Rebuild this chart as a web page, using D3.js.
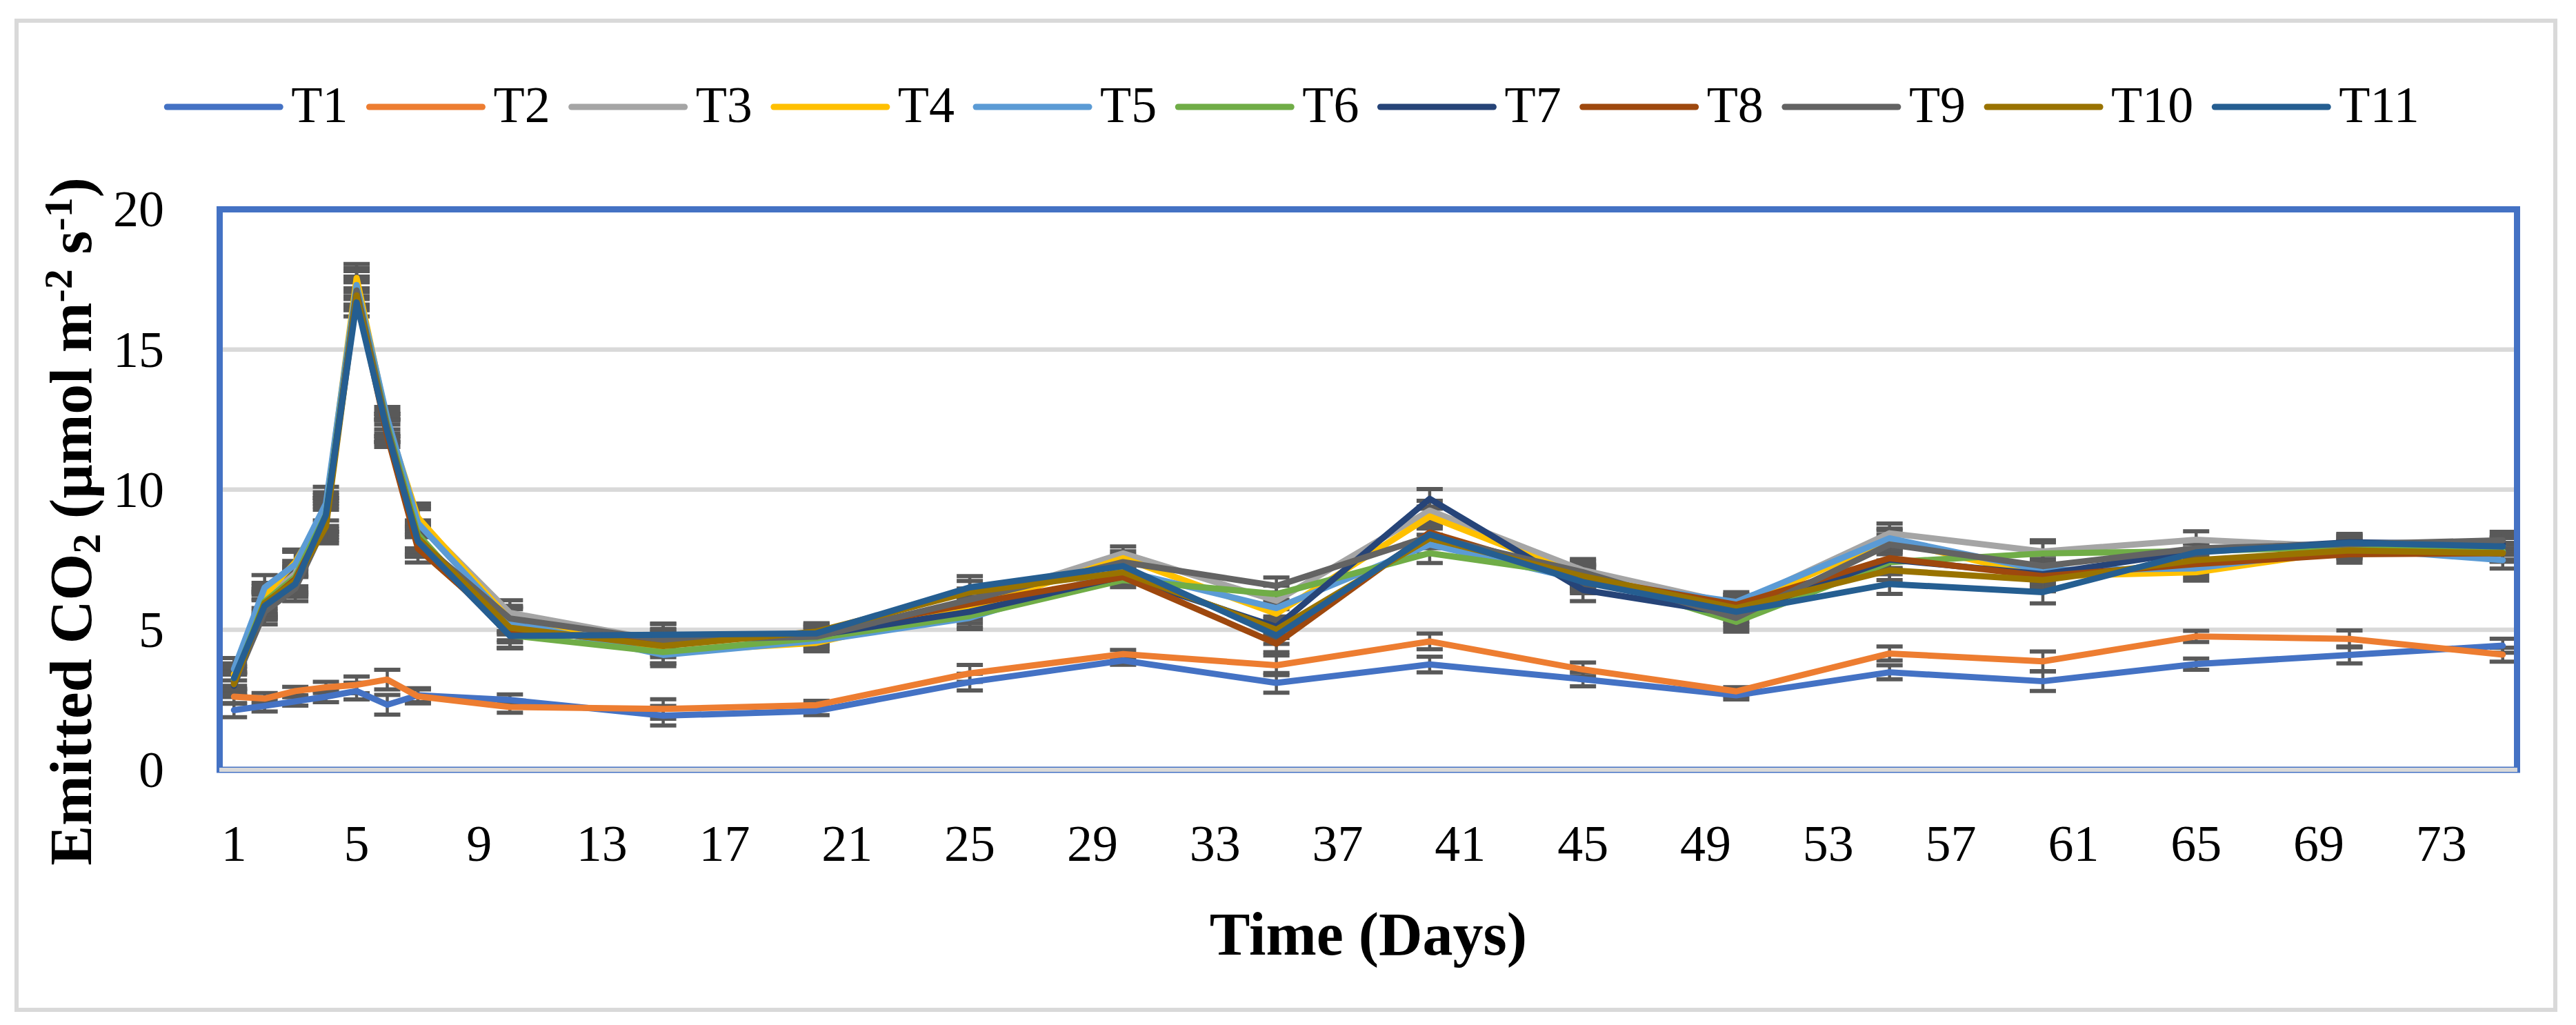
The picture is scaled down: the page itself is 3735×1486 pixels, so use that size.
<!DOCTYPE html>
<html>
<head>
<meta charset="utf-8">
<script src="https://cdn.jsdelivr.net/npm/d3@7"></script>
<style>
  body { margin: 0; background: #fff; }
  text { font-family: "Liberation Serif", "Times New Roman", serif; fill: #000; }
</style>
</head>
<body>
<div id="chart"></div>
<script>
// Emitted CO2 over 75 days, treatments T1..T11

const days = [1, 2, 3, 4, 5, 6, 7, 10, 15, 20, 25, 30, 35, 40, 45, 50, 55, 60, 65, 70, 75];
const tickDays = [1, 5, 9, 13, 17, 21, 25, 29, 33, 37, 41, 45, 49, 53, 57, 61, 65, 69, 73];
const yTicks = [0, 5, 10, 15, 20];

const names = ['T1', 'T2', 'T3', 'T4', 'T5', 'T6', 'T7', 'T8', 'T9', 'T10', 'T11'];
const colors = ['#4472C4', '#ED7D31', '#A5A5A5', '#FFC000', '#5B9BD5', '#70AD47',
                '#264478', '#9E480E', '#636363', '#997300', '#255E91'];

const T1  = [2.13, 2.28, 2.44, 2.61, 2.81, 2.32, 2.66, 2.49, 1.93, 2.10, 3.13, 3.90, 3.10, 3.76, 3.23, 2.66, 3.48, 3.16, 3.77, 4.10, 4.43];
const T2  = [2.61, 2.54, 2.81, 2.94, 3.03, 3.22, 2.62, 2.24, 2.17, 2.31, 3.44, 4.13, 3.73, 4.58, 3.58, 2.80, 4.15, 3.87, 4.76, 4.67, 4.11];
const T3  = [3.30, 6.10, 7.00, 9.20, 17.40, 12.30, 8.90, 5.60, 4.60, 4.80, 6.00, 7.72, 6.03, 9.25, 7.12, 5.90, 8.44, 7.79, 8.21, 7.95, 8.00];
const T4  = [3.40, 6.22, 7.41, 9.30, 17.55, 12.40, 9.00, 5.35, 4.20, 4.53, 5.77, 7.55, 5.57, 9.04, 6.90, 5.80, 8.20, 6.90, 7.05, 7.85, 7.75];
const T5  = [3.59, 6.50, 7.33, 9.50, 17.30, 12.55, 8.80, 5.28, 4.10, 4.60, 5.42, 7.10, 5.77, 8.04, 6.77, 5.99, 8.26, 7.12, 7.19, 7.90, 7.48];
const T6  = [3.20, 6.00, 6.88, 9.10, 17.10, 12.30, 8.40, 4.80, 4.20, 4.70, 5.49, 6.77, 6.27, 7.73, 6.95, 5.28, 7.41, 7.72, 7.80, 7.97, 7.80];
const T7  = [3.00, 5.80, 6.70, 9.00, 17.00, 12.10, 8.10, 4.80, 4.80, 4.80, 5.64, 6.90, 5.10, 9.67, 6.42, 5.55, 7.50, 6.98, 7.80, 8.12, 8.05];
const T8  = [3.10, 5.90, 6.80, 8.90, 16.90, 11.92, 7.90, 5.00, 4.50, 4.90, 5.92, 6.88, 4.50, 8.47, 6.85, 5.89, 7.55, 6.91, 7.34, 7.69, 7.73];
const T9  = [3.05, 5.64, 6.47, 8.80, 17.10, 12.20, 8.20, 5.40, 4.63, 4.75, 6.07, 7.41, 6.56, 8.33, 7.05, 5.42, 8.04, 7.27, 7.90, 8.05, 8.19];
const T10 = [3.06, 5.95, 6.75, 8.68, 16.93, 12.10, 8.27, 5.07, 4.42, 4.93, 6.34, 7.05, 5.00, 8.26, 6.91, 5.77, 7.12, 6.77, 7.48, 7.83, 7.73];
const T11 = [3.27, 5.85, 6.63, 9.09, 16.68, 12.06, 8.15, 4.78, 4.82, 4.87, 6.51, 7.27, 4.79, 8.40, 6.70, 5.64, 6.63, 6.34, 7.76, 8.10, 7.97];

// error bar half-widths per day: low group (T1, T2) and high group (T3..T11)
const errLow  = [0.25, 0.20, 0.15, 0.20, 0.30, 0.35, 0.25, 0.20, 0.35, 0.15, 0.30, 0.15, 0.35, 0.28, 0.25, 0.15, 0.25, 0.35, 0.20, 0.30, 0.25];
const errHigh = [0.40, 0.45, 0.45, 0.60, 0.50, 0.40, 0.50, 0.45, 0.40, 0.30, 0.40, 0.25, 0.30, 0.35, 0.40, 0.35, 0.35, 0.40, 0.30, 0.30, 0.30];

const seriesValues = [T1, T2, T3, T4, T5, T6, T7, T8, T9, T10, T11];

const W = 3735, H = 1486;
const svg = d3.select('#chart').append('svg').attr('width', W).attr('height', H);

// outer chart frame
svg.append('rect')
  .attr('x', 24).attr('y', 30).attr('width', 3681).attr('height', 1434)
  .attr('fill', '#fff').attr('stroke', '#D9D9D9').attr('stroke-width', 6);

const plot = { left: 317, right: 3651, top: 303.5, bottom: 1116 };

const x = d3.scaleBand().domain(d3.range(1, 76)).range([plot.left, plot.right]);
const cx = d => x(d) + x.bandwidth() / 2;
const y = d3.scaleLinear().domain([0, 20]).range([plot.bottom, plot.top]);

// gridlines
svg.append('g').selectAll('line')
  .data(yTicks.filter(v => v > 0 && v < 20))
  .enter().append('line')
  .attr('x1', plot.left + 5).attr('x2', plot.right - 5)
  .attr('y1', d => y(d)).attr('y2', d => y(d))
  .attr('stroke', '#D9D9D9').attr('stroke-width', 6.5);

const series = names.map((n, i) => ({
  name: n,
  color: colors[i],
  points: days.map((d, j) => ({ day: d, v: seriesValues[i][j], e: (i < 2 ? errLow : errHigh)[j] }))
}));

// error bars (behind the lines)
const eb = svg.append('g').attr('stroke', '#595959');
series.forEach(s => {
  const g = eb.append('g');
  g.selectAll('.stem').data(s.points).enter().append('line')
    .attr('x1', d => cx(d.day)).attr('x2', d => cx(d.day))
    .attr('y1', d => y(d.v - d.e)).attr('y2', d => y(d.v + d.e))
    .attr('stroke-width', 4.5);
  g.selectAll('.capT').data(s.points).enter().append('line')
    .attr('x1', d => cx(d.day) - 19).attr('x2', d => cx(d.day) + 19)
    .attr('y1', d => y(d.v + d.e)).attr('y2', d => y(d.v + d.e))
    .attr('stroke-width', 6);
  g.selectAll('.capB').data(s.points).enter().append('line')
    .attr('x1', d => cx(d.day) - 19).attr('x2', d => cx(d.day) + 19)
    .attr('y1', d => y(d.v - d.e)).attr('y2', d => y(d.v - d.e))
    .attr('stroke-width', 6);
});

// lines
const line = d3.line().x(d => cx(d.day)).y(d => y(d.v));
svg.append('g').selectAll('path')
  .data(series)
  .enter().append('path')
  .attr('d', d => line(d.points))
  .attr('fill', 'none')
  .attr('stroke', d => d.color)
  .attr('stroke-width', 9)
  .attr('stroke-linejoin', 'round')
  .attr('stroke-linecap', 'round');

// plot area border
svg.append('rect')
  .attr('x', plot.left + 1.5).attr('y', plot.top)
  .attr('width', plot.right - plot.left - 3).attr('height', plot.bottom - plot.top)
  .attr('fill', 'none').attr('stroke', '#4472C4').attr('stroke-width', 9);

// x axis line (light gray over the blue border)
svg.append('line')
  .attr('x1', plot.left + 1).attr('x2', plot.right - 1)
  .attr('y1', plot.bottom).attr('y2', plot.bottom)
  .attr('stroke', '#D9D9D9').attr('stroke-width', 6);

// x axis labels
const xAxis = svg.append('g')
  .attr('transform', `translate(0,${plot.bottom})`)
  .call(d3.axisBottom(x).tickValues(tickDays).tickSize(0));
xAxis.select('.domain').remove();
xAxis.selectAll('text')
  .attr('y', 132).attr('dy', null)
  .style('font-family', '"Liberation Serif", serif')
  .style('font-size', '74px').attr('fill', '#000');

// y axis labels
const yAxis = svg.append('g')
  .attr('transform', `translate(${plot.left},0)`)
  .call(d3.axisLeft(y).tickValues(yTicks).tickSize(0));
yAxis.select('.domain').remove();
yAxis.selectAll('text')
  .attr('x', -79).attr('dy', '0.33em')
  .style('font-family', '"Liberation Serif", serif')
  .style('font-size', '74px').attr('fill', '#000');

// axis titles
svg.append('text')
  .attr('x', (plot.left + plot.right) / 2).attr('y', 1384)
  .attr('text-anchor', 'middle')
  .style('font-size', '88px').style('font-weight', 'bold')
  .text('Time (Days)');

const yTitle = svg.append('text')
  .attr('transform', 'translate(132,756) rotate(-90)')
  .attr('text-anchor', 'middle')
  .style('font-size', '87px').style('font-weight', 'bold');
yTitle.append('tspan').text('Emitted CO');
yTitle.append('tspan').attr('baseline-shift', '-22%').style('font-size', '58px').text('2');
yTitle.append('tspan').text(' (µmol m');
yTitle.append('tspan').attr('baseline-shift', '48%').style('font-size', '58px').text('-2');
yTitle.append('tspan').text(' s');
yTitle.append('tspan').attr('baseline-shift', '48%').style('font-size', '58px').text('-1');
yTitle.append('tspan').text(')');

// legend
const legend = svg.append('g');
const items = legend.selectAll('g').data(series).enter().append('g');
items.append('line')
  .attr('x1', 4).attr('x2', 168).attr('y1', 155).attr('y2', 155)
  .attr('stroke', d => d.color).attr('stroke-width', 9).attr('stroke-linecap', 'round');
items.append('text')
  .attr('x', 184).attr('y', 177)
  .style('font-size', '74px')
  .text(d => d.name);
let pos = 0;
const offsets = [];
items.each(function () {
  offsets.push(pos);
  const w = d3.select(this).select('text').node().getComputedTextLength();
  pos += 184 + w + 27;
});
const total = pos - 27;
const start = 1873 - total / 2;
items.attr('transform', (d, i) => `translate(${start + offsets[i]},0)`);
</script>
</body>
</html>
